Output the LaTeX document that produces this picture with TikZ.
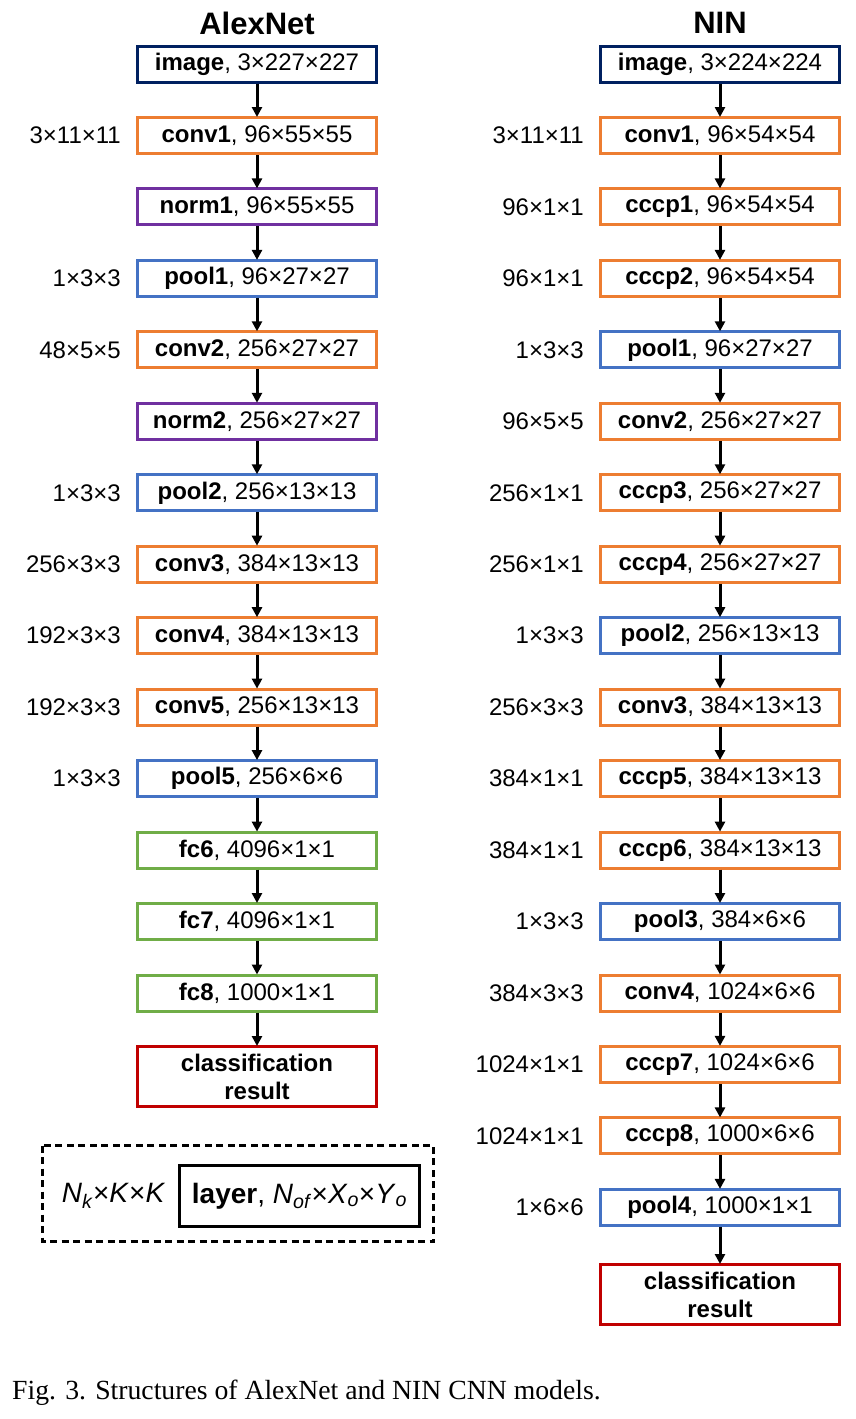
\documentclass[tikz,border=0pt]{standalone}
\usepackage{fontspec}
\setmainfont{Liberation Sans}
\newfontfamily\capfont{Liberation Serif}
\usetikzlibrary{arrows.meta}
\definecolor{cnavy}{HTML}{002060}
\definecolor{corange}{HTML}{ED7D31}
\definecolor{cpurple}{HTML}{7030A0}
\definecolor{cblue}{HTML}{4472C4}
\definecolor{cgreen}{HTML}{70AD47}
\definecolor{cred}{HTML}{C00000}
\tikzset{
  layerbox/.style={draw=#1, line width=3pt, minimum width=239pt, minimum height=36pt, inner sep=0pt, font=\fontsize{24}{28}\selectfont, align=center},
  resbox/.style={draw=cred, line width=3pt, minimum width=239pt, minimum height=60pt, inner sep=0pt, font=\fontsize{24}{28}\selectfont\bfseries, align=center},
  klabel/.style={anchor=east, inner sep=0pt, font=\fontsize{24}{28}\selectfont},
  ttl/.style={font=\fontsize{31}{34}\selectfont\bfseries, inner sep=0pt},
  flow/.style={line width=3pt, -{Triangle[length=10pt,width=10pt]}, shorten >=-1pt}
}
\begin{document}
\begin{tikzpicture}[x=1pt,y=-1pt]
\useasboundingbox (0,0) rectangle (855,1419);
% titles
\node[ttl] (ta) at (257,23) {AlexNet};
\node[ttl] (tn) at (720,23) {NIN};
% AlexNet
\node[layerbox=cnavy]   (a0)  at (257,64.0)   {\textbf{image}, 3×227×227};
\node[layerbox=corange] (a1)  at (257,135.5)  {\textbf{conv1}, 96×55×55};
\node[layerbox=cpurple] (a2)  at (257,206.9)  {\textbf{norm1}, 96×55×55};
\node[layerbox=cblue]   (a3)  at (257,278.4)  {\textbf{pool1}, 96×27×27};
\node[layerbox=corange] (a4)  at (257,349.8)  {\textbf{conv2}, 256×27×27};
\node[layerbox=cpurple] (a5)  at (257,421.3)  {\textbf{norm2}, 256×27×27};
\node[layerbox=cblue]   (a6)  at (257,492.8)  {\textbf{pool2}, 256×13×13};
\node[layerbox=corange] (a7)  at (257,564.2)  {\textbf{conv3}, 384×13×13};
\node[layerbox=corange] (a8)  at (257,635.7)  {\textbf{conv4}, 384×13×13};
\node[layerbox=corange] (a9)  at (257,707.1)  {\textbf{conv5}, 256×13×13};
\node[layerbox=cblue]   (a10) at (257,778.6)  {\textbf{pool5}, 256×6×6};
\node[layerbox=cgreen]  (a11) at (257,850.1)  {\textbf{fc6}, 4096×1×1};
\node[layerbox=cgreen]  (a12) at (257,921.5)  {\textbf{fc7}, 4096×1×1};
\node[layerbox=cgreen]  (a13) at (257,993.0)  {\textbf{fc8}, 1000×1×1};
\node[resbox]           (a14) at (257,1076.5) {classification\\result};
\foreach \i/\j in {0/1,1/2,2/3,3/4,4/5,5/6,6/7,7/8,8/9,9/10,10/11,11/12,12/13,13/14}
  \draw[flow] (a\i.south) -- (a\j.north);
\node[klabel] (ka1)  at (121,135.5) {3×11×11};
\node[klabel] (ka3)  at (121,278.4) {1×3×3};
\node[klabel] (ka4)  at (121,349.8) {48×5×5};
\node[klabel] (ka6)  at (121,492.8) {1×3×3};
\node[klabel] (ka7)  at (121,564.2) {256×3×3};
\node[klabel] (ka8)  at (121,635.7) {192×3×3};
\node[klabel] (ka9)  at (121,707.1) {192×3×3};
\node[klabel] (ka10) at (121,778.6) {1×3×3};
% NIN
\node[layerbox=cnavy]   (n0)  at (720,64.0)   {\textbf{image}, 3×224×224};
\node[layerbox=corange] (n1)  at (720,135.5)  {\textbf{conv1}, 96×54×54};
\node[layerbox=corange] (n2)  at (720,206.9)  {\textbf{cccp1}, 96×54×54};
\node[layerbox=corange] (n3)  at (720,278.4)  {\textbf{cccp2}, 96×54×54};
\node[layerbox=cblue]   (n4)  at (720,349.8)  {\textbf{pool1}, 96×27×27};
\node[layerbox=corange] (n5)  at (720,421.3)  {\textbf{conv2}, 256×27×27};
\node[layerbox=corange] (n6)  at (720,492.8)  {\textbf{cccp3}, 256×27×27};
\node[layerbox=corange] (n7)  at (720,564.2)  {\textbf{cccp4}, 256×27×27};
\node[layerbox=cblue]   (n8)  at (720,635.7)  {\textbf{pool2}, 256×13×13};
\node[layerbox=corange] (n9)  at (720,707.1)  {\textbf{conv3}, 384×13×13};
\node[layerbox=corange] (n10) at (720,778.6)  {\textbf{cccp5}, 384×13×13};
\node[layerbox=corange] (n11) at (720,850.1)  {\textbf{cccp6}, 384×13×13};
\node[layerbox=cblue]   (n12) at (720,921.5)  {\textbf{pool3}, 384×6×6};
\node[layerbox=corange] (n13) at (720,993.0)  {\textbf{conv4}, 1024×6×6};
\node[layerbox=corange] (n14) at (720,1064.4) {\textbf{cccp7}, 1024×6×6};
\node[layerbox=corange] (n15) at (720,1135.9) {\textbf{cccp8}, 1000×6×6};
\node[layerbox=cblue]   (n16) at (720,1207.4) {\textbf{pool4}, 1000×1×1};
\node[resbox]           (n17) at (720,1294.5) {classification\\result};
\foreach \i/\j in {0/1,1/2,2/3,3/4,4/5,5/6,6/7,7/8,8/9,9/10,10/11,11/12,12/13,13/14,14/15,15/16,16/17}
  \draw[flow] (n\i.south) -- (n\j.north);
\node[klabel] (kn1)  at (584,135.5)  {3×11×11};
\node[klabel] (kn2)  at (584,206.9)  {96×1×1};
\node[klabel] (kn3)  at (584,278.4)  {96×1×1};
\node[klabel] (kn4)  at (584,349.8)  {1×3×3};
\node[klabel] (kn5)  at (584,421.3)  {96×5×5};
\node[klabel] (kn6)  at (584,492.8)  {256×1×1};
\node[klabel] (kn7)  at (584,564.2)  {256×1×1};
\node[klabel] (kn8)  at (584,635.7)  {1×3×3};
\node[klabel] (kn9)  at (584,707.1)  {256×3×3};
\node[klabel] (kn10) at (584,778.6)  {384×1×1};
\node[klabel] (kn11) at (584,850.1)  {384×1×1};
\node[klabel] (kn12) at (584,921.5)  {1×3×3};
\node[klabel] (kn13) at (584,993.0)  {384×3×3};
\node[klabel] (kn14) at (584,1064.4) {1024×1×1};
\node[klabel] (kn15) at (584,1135.9) {1024×1×1};
\node[klabel] (kn16) at (584,1207.4) {1×6×6};
% legend
\draw[line width=2.8pt, dash pattern=on 7pt off 4.5pt] (42.5,1145.5) rectangle (433.5,1241.5);
\node[draw, line width=3.4pt, minimum width=240pt, minimum height=61pt, inner sep=0pt, font=\fontsize{28}{32}\selectfont] (lg) at (299.5,1196)
  {\textbf{layer}, \textit{N}\textsubscript{\textit{of}}×\textit{X}\textsubscript{\textit{o}}×\textit{Y}\textsubscript{\textit{o}}};
\node[inner sep=0pt, font=\fontsize{28}{32}\selectfont] (lk) at (113.5,1196)
  {\textit{N}\textsubscript{\textit{k}}×\textit{K}×\textit{K}};
% caption
\node[anchor=base west, inner sep=0pt, font=\capfont\fontsize{27.7}{30}\selectfont] (cap) at (12,1399)
  {Fig. 3. Structures of AlexNet and NIN CNN models.};
\end{tikzpicture}
\end{document}
